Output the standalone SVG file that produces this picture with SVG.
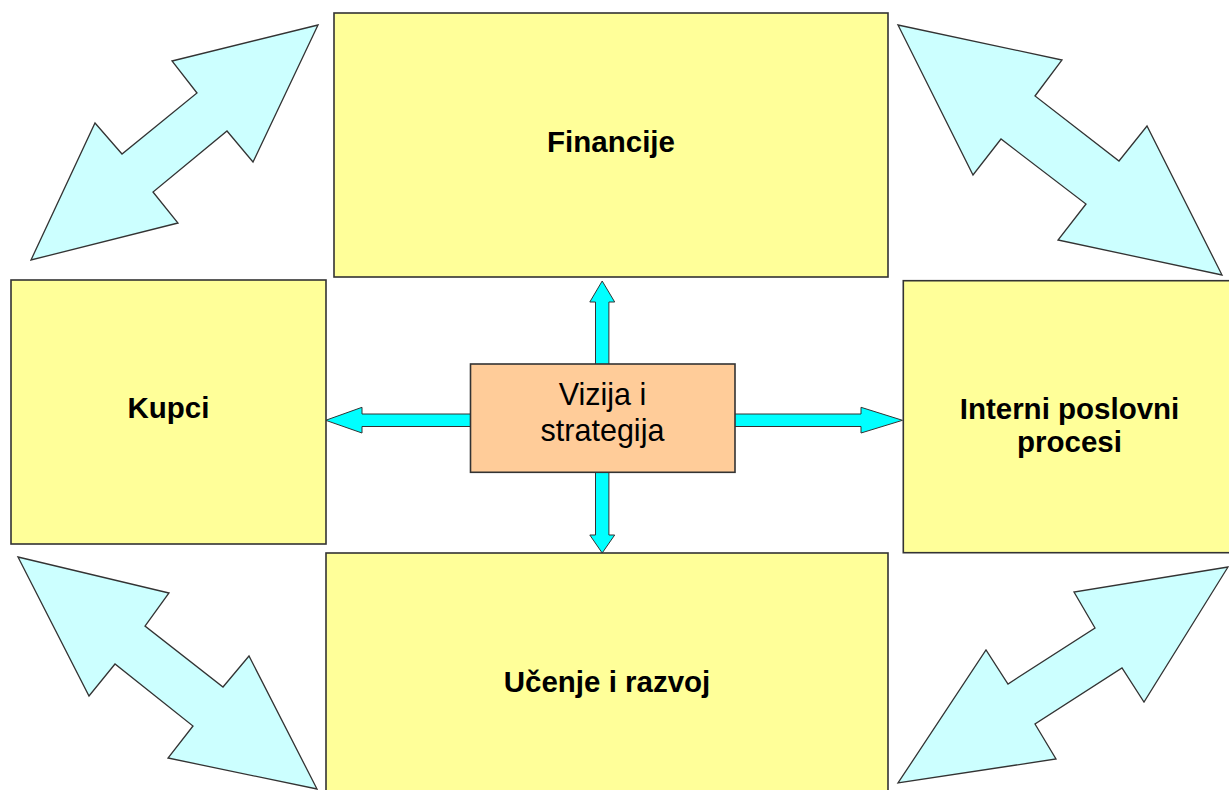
<svg xmlns="http://www.w3.org/2000/svg" width="1229" height="790" viewBox="0 0 1229 790">
<style>
.box{fill:#FFFF99;stroke:#333;stroke-width:1.6}
.center{fill:#FFCC99;stroke:#333;stroke-width:1.6}
.big{fill:#CCFFFF;stroke:#333;stroke-width:1.3;stroke-linejoin:miter}
.small{fill:#00FFFF;stroke:#333;stroke-width:1}
.lbl{font-family:"Liberation Sans",Arial,sans-serif;font-weight:bold;font-size:29.5px;fill:#000;text-anchor:middle}
.clbl{font-family:"Liberation Sans",Arial,sans-serif;font-size:30.5px;fill:#000;text-anchor:middle}
</style>
<rect width="1229" height="790" fill="#fff"/>
<g id="connectors">
<polygon class="big" points="318,25 172,61 197,93 122,154 95,123 31,260 178,223 153,192 227,131 253,162"/>
<polygon class="big" points="898,25 1062,60 1035,96 1119,161 1147,126 1222,275 1058,240 1086,204 1001,139 973,175"/>
<polygon class="big" points="18,557 169,593 145,626 223,687 249,656 317,789 168,758 193,726 115,664 89,696"/>
<polygon class="big" points="1228,567 1074,592 1095,628 1008,684 986,650 898,783 1056,759 1035,724 1122,668 1144,702"/>
<polygon class="small" points="602.2,281 614.7,302 608.9,302 608.9,366 595.5,366 595.5,302 589.8,302"/>
<polygon class="small" points="602.2,553 614.7,535 608.9,535 608.9,470 595.5,470 595.5,535 589.8,535"/>
<polygon class="small" points="325.7,420.3 362,407.3 362,414 472,414 472,426.5 362,426.5 362,433"/>
<polygon class="small" points="902.5,420.3 861,407.3 861,414 733,414 733,426.5 861,426.5 861,433"/>
</g>
<g id="financije">
<rect class="box" x="334" y="13" width="554" height="264"/>
<text class="lbl" x="611" y="151.7">Financije</text>
</g>
<g id="kupci">
<rect class="box" x="11" y="280" width="315" height="264"/>
<text class="lbl" x="168.5" y="418.3">Kupci</text>
</g>
<g id="interni">
<rect class="box" x="903.3" y="280.7" width="340" height="272"/>
<text class="lbl" x="1069.5" y="419.3">Interni poslovni</text>
<text class="lbl" x="1069.5" y="451.7">procesi</text>
</g>
<g id="ucenje">
<rect class="box" x="326" y="553" width="562" height="250"/>
<text class="lbl" x="607" y="692.3">Učenje i razvoj</text>
</g>
<g id="vizija">
<rect class="center" x="470.5" y="364" width="264.5" height="108.3"/>
<text class="clbl" x="602.5" y="405">Vizija i</text>
<text class="clbl" x="602.5" y="441">strategija</text>
</g>
</svg>
